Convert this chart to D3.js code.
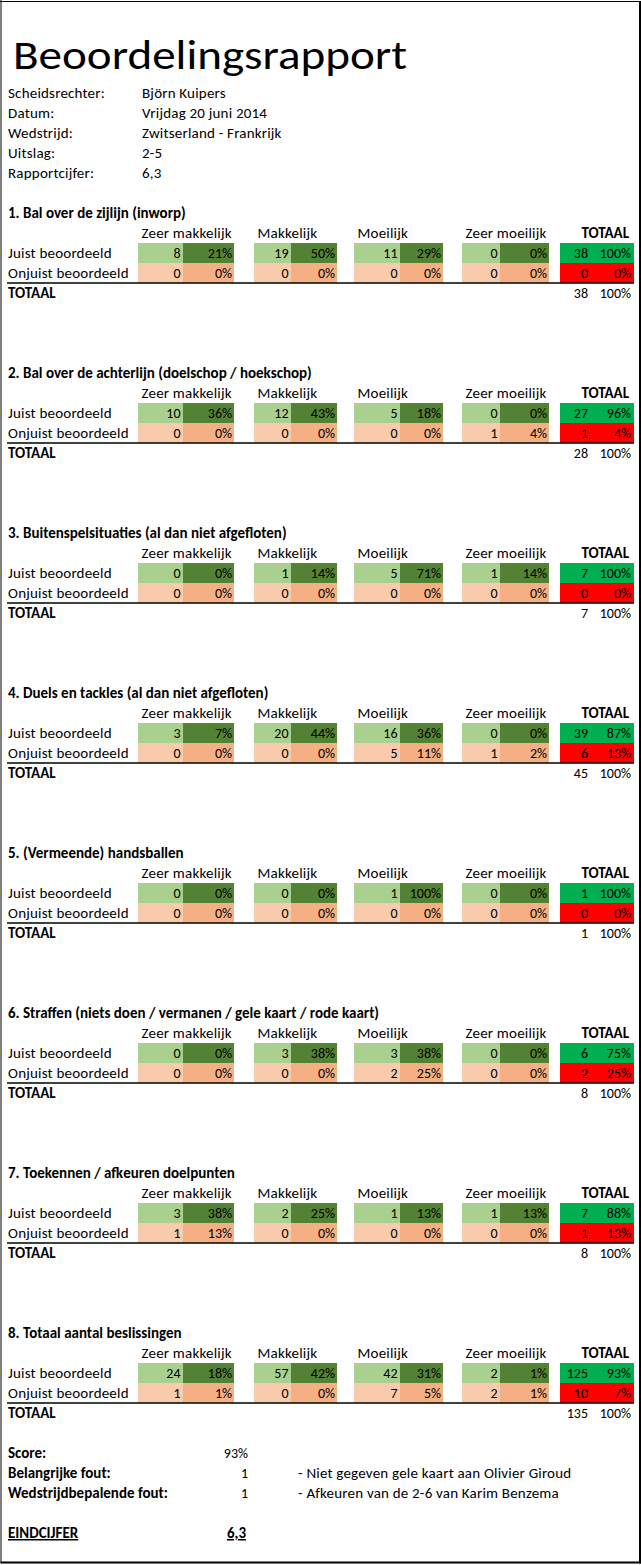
<!DOCTYPE html>
<html><head><meta charset="utf-8">
<script src="https://cdn.jsdelivr.net/npm/d3@7/dist/d3.min.js"></script>
<style>html,body{margin:0;padding:0;background:#fff}svg{display:block}text{font-family:Carlito,Lato,sans-serif}</style>
</head><body><div id="chart"></div>
<script>
// ---------- data ----------
const reportTitle = "Beoordelingsrapport";
const infoLabels = ["Scheidsrechter:", "Datum:", "Wedstrijd:", "Uitslag:", "Rapportcijfer:"];
const infoValues = ["Björn Kuipers", "Vrijdag 20 juni 2014", "Zwitserland - Frankrijk", "2-5", "6,3"];
const categories = ["Zeer makkelijk", "Makkelijk", "Moeilijk", "Zeer moeilijk"];
const rowLabels = ["Juist beoordeeld", "Onjuist beoordeeld"];
const sectionTitles = [
  "1. Bal over de zijlijn (inworp)",
  "2. Bal over de achterlijn (doelschop / hoekschop)",
  "3. Buitenspelsituaties (al dan niet afgefloten)",
  "4. Duels en tackles (al dan niet afgefloten)",
  "5. (Vermeende) handsballen",
  "6. Straffen (niets doen / vermanen / gele kaart / rode kaart)",
  "7. Toekennen / afkeuren doelpunten",
  "8. Totaal aantal beslissingen"
];
const juistCounts = [[8,19,11,0],[10,12,5,0],[0,1,5,1],[3,20,16,0],[0,0,1,0],[0,3,3,0],[3,2,1,1],[24,57,42,2]];
const juistPct    = [[21,50,29,0],[36,43,18,0],[0,14,71,14],[7,44,36,0],[0,0,100,0],[0,38,38,0],[38,25,13,13],[18,42,31,1]];
const onjuistCounts = [[0,0,0,0],[0,0,0,1],[0,0,0,0],[0,0,5,1],[0,0,0,0],[0,0,2,0],[1,0,0,0],[1,0,7,2]];
const onjuistPct    = [[0,0,0,0],[0,0,0,4],[0,0,0,0],[0,0,11,2],[0,0,0,0],[0,0,25,0],[13,0,0,0],[1,0,5,1]];
const juistTotal = [38,27,7,39,1,6,7,125];
const juistTotalPct = [100,96,100,87,100,75,88,93];
const onjuistTotal = [0,1,0,6,0,2,1,10];
const onjuistTotalPct = [0,4,0,13,0,25,13,7];
const grandTotal = [38,28,7,45,1,8,8,135];
const grandTotalPct = [100,100,100,100,100,100,100,100];
const summaryLabels = ["Score:", "Belangrijke fout:", "Wedstrijdbepalende fout:"];
const summaryValues = ["93%", "1", "1"];
const summaryNotes = ["", "- Niet gegeven gele kaart aan Olivier Giroud", "- Afkeuren van de 2-6 van Karim Benzema"];
const finalLabel = "EINDCIJFER";
const finalValue = "6,3";

// ---------- layout ----------
const W = 641, H = 1565;
const svg = d3.select("#chart").append("svg").attr("width", W).attr("height", H);
svg.append("rect").attr("width", W).attr("height", H).attr("fill", "#fff");

const FS = 15, FSN = 14;
const colLeft  = d3.scaleOrdinal().domain(categories).range([138, 254, 354, 462]);
const colMid   = d3.scaleOrdinal().domain(categories).range([183, 291, 400, 500]);
const colRight = d3.scaleOrdinal().domain(categories).range([234, 337, 443, 549]);
const totL = 560, totR = 634, totCountR = 588;
const sectionY = d3.scaleLinear().domain([0, 1]).range([203, 363]);
const rowOff = d3.scaleOrdinal().domain(["title","header","juist","onjuist","totaal"]).range([0,20,40,60,80]);
const rowH = 20, base = 15;
const colors = {lightG:"#A9D08E", darkG:"#548235", lightO:"#F8CBAD", darkO:"#F4B084", totG:"#00B050", totR:"#FF0000"};

// label text (regular / bold)
function txt(g, x, y, s, opts = {}) {
  const t = g.append("text").attr("x", x).attr("y", y).attr("font-size", FS).attr("fill", "#000").text(s);
  if (opts.anchor) t.attr("text-anchor", opts.anchor);
  if (opts.bold) t.attr("font-weight", "bold");
  else t.attr("letter-spacing", 0.2);
  return t;
}
// numeric text
function num(g, x, y, s) {
  return g.append("text").attr("x", x).attr("y", y).attr("font-size", FSN).attr("fill", "#000")
    .attr("text-anchor", "end").text(s);
}

// title
svg.append("text").attr("x", 13).attr("y", 69).attr("font-size", 40)
  .attr("textLength", 394).attr("lengthAdjust", "spacingAndGlyphs").text(reportTitle);

// info
const infoY = d3.scaleLinear().domain([0, 1]).range([83, 103]);
infoLabels.forEach((l, i) => {
  txt(svg, 8, infoY(i) + base, l);
  txt(svg, 142, infoY(i) + base, infoValues[i]);
});

sectionTitles.forEach((title, s) => {
  const g = svg.append("g").attr("transform", `translate(0,${sectionY(s)})`);
  txt(g, 8, rowOff("title") + base, title, {bold: true});
  categories.forEach(c => txt(g, colLeft(c) + 3.5, rowOff("header") + base, c));
  txt(g, 629, rowOff("header") + base, "TOTAAL", {anchor: "end", bold: true});

  const rows = [
    {key: "juist", label: rowLabels[0], counts: juistCounts[s], pct: juistPct[s], tot: juistTotal[s], totPct: juistTotalPct[s], c1: colors.lightG, c2: colors.darkG, ct: colors.totG},
    {key: "onjuist", label: rowLabels[1], counts: onjuistCounts[s], pct: onjuistPct[s], tot: onjuistTotal[s], totPct: onjuistTotalPct[s], c1: colors.lightO, c2: colors.darkO, ct: colors.totR}
  ];
  rows.forEach(r => {
    const y0 = rowOff(r.key);
    txt(g, 8, y0 + base, r.label);
    categories.forEach((c, i) => {
      g.append("rect").attr("x", colLeft(c)).attr("y", y0).attr("width", colMid(c) - colLeft(c)).attr("height", rowH).attr("fill", r.c1);
      g.append("rect").attr("x", colMid(c)).attr("y", y0).attr("width", colRight(c) - colMid(c)).attr("height", rowH).attr("fill", r.c2);
      num(g, colMid(c) - 2.5, y0 + base, r.counts[i]);
      num(g, colRight(c) - 2, y0 + base, r.pct[i] + "%");
    });
    g.append("rect").attr("x", totL).attr("y", y0).attr("width", totR - totL).attr("height", rowH).attr("fill", r.ct);
    num(g, totCountR, y0 + base, r.tot);
    num(g, 631, y0 + base, r.totPct + "%");
  });
  g.append("line").attr("x1", 7).attr("x2", 634).attr("y1", rowOff("totaal")).attr("y2", rowOff("totaal"))
    .attr("stroke", "#000").attr("stroke-width", 1.5);
  txt(g, 8, rowOff("totaal") + base, "TOTAAL", {bold: true});
  num(g, totCountR, rowOff("totaal") + base, grandTotal[s]);
  num(g, 631, rowOff("totaal") + base, grandTotalPct[s] + "%");
});

// summary
const sumY = d3.scaleLinear().domain([0, 1]).range([1443, 1463]);
summaryLabels.forEach((l, i) => {
  txt(svg, 8, sumY(i) + base, l, {bold: true});
  num(svg, 248, sumY(i) + base, summaryValues[i]);
  if (summaryNotes[i]) txt(svg, 298, sumY(i) + base, summaryNotes[i]);
});
const fy = sumY(4) + base;
txt(svg, 8, fy, finalLabel, {bold: true}).attr("text-decoration", "underline");
txt(svg, 246, fy, finalValue, {anchor: "end", bold: true}).attr("text-decoration", "underline");

// border
svg.append("line").attr("x1", 0).attr("x2", 641).attr("y1", 1.5).attr("y2", 1.5).attr("stroke", "#000").attr("stroke-width", 1);
svg.append("line").attr("x1", 1).attr("x2", 1).attr("y1", 0).attr("y2", 1563).attr("stroke", "#000").attr("stroke-width", 1);
svg.append("line").attr("x1", 640).attr("x2", 640).attr("y1", 1).attr("y2", 1563.5).attr("stroke", "#000").attr("stroke-width", 2);
svg.append("line").attr("x1", 0.5).attr("x2", 641).attr("y1", 1562.5).attr("y2", 1562.5).attr("stroke", "#000").attr("stroke-width", 2);
</script></body></html>
